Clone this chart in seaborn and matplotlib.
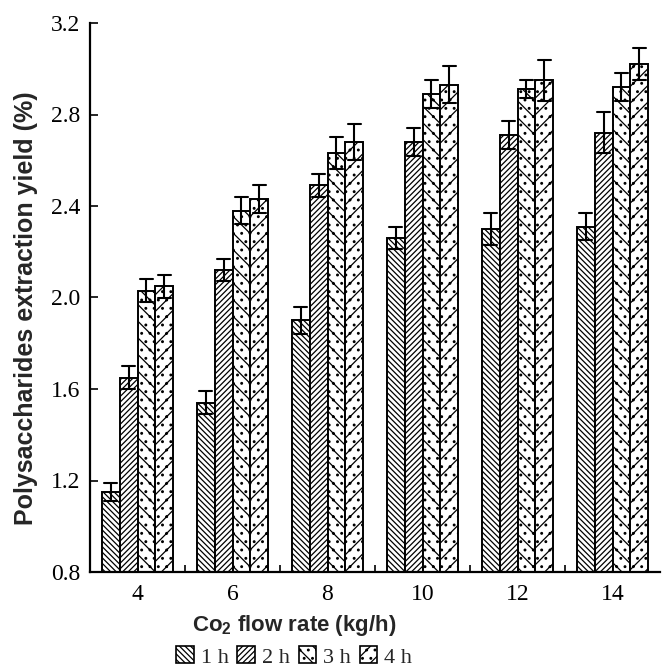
import numpy as np
import pandas as pd
import matplotlib
matplotlib.use("Agg")
import matplotlib.pyplot as plt
from matplotlib.patches import Patch
import seaborn as sns

# ---- data ----
flow_rates = ["4", "6", "8", "10", "12", "14"]
times = ["1 h", "2 h", "3 h", "4 h"]
yield_1h = [1.15, 1.54, 1.90, 2.26, 2.30, 2.31]
yield_2h = [1.65, 2.12, 2.49, 2.68, 2.71, 2.72]
yield_3h = [2.03, 2.38, 2.63, 2.89, 2.91, 2.92]
yield_4h = [2.05, 2.43, 2.68, 2.93, 2.95, 3.02]
err_1h = [0.04, 0.05, 0.06, 0.05, 0.07, 0.06]
err_2h = [0.05, 0.05, 0.05, 0.06, 0.06, 0.09]
err_3h = [0.05, 0.06, 0.07, 0.06, 0.04, 0.06]
err_4h = [0.05, 0.06, 0.08, 0.08, 0.09, 0.07]
y_ticks = [0.8, 1.2, 1.6, 2.0, 2.4, 2.8, 3.2]

means = [yield_1h, yield_2h, yield_3h, yield_4h]
errs = [err_1h, err_2h, err_3h, err_4h]
rows = []
for t, m_list, e_list in zip(times, means, errs):
    for f, m, e in zip(flow_rates, m_list, e_list):
        rows.append({"flow": f, "time": t, "yield": m - e})
        rows.append({"flow": f, "time": t, "yield": m + e})
df = pd.DataFrame(rows)

sns.set_theme(style="ticks")
plt.rcParams["hatch.linewidth"] = 0.9
plt.rcParams["mathtext.fontset"] = "custom"
plt.rcParams["mathtext.bf"] = "Liberation Sans:bold"
plt.rcParams["mathtext.rm"] = "Liberation Sans:bold"

fig = plt.figure(figsize=(6.62, 6.69), dpi=100)
ax = fig.add_axes([90 / 662, 1 - 572 / 669, 570 / 662, (572 - 23) / 669])

sns.barplot(data=df, x="flow", y="yield", hue="time",
            order=flow_rates, hue_order=times,
            palette=["white"] * 4, edgecolor="black", linewidth=1.4,
            width=0.75, estimator="mean",
            errorbar=lambda v: (v.min(), v.max()),
            capsize=0.55, err_kws={"color": "black", "linewidth": 1.5},
            legend=False, ax=ax)

hatches = ["\\\\\\\\\\\\", "//////", "\\\\..", "//.."]
for cont, h in zip(ax.containers, hatches):
    for bar in cont:
        bar.set_hatch(h)

ax.set_xlim(-0.5, 5.5)
ax.set_ylim(0.8, 3.2)
ax.set_yticks(y_ticks)
ax.set_yticklabels([f"{v:.1f}" for v in y_ticks])
ax.set_xticks(np.arange(0.5, 5.5, 1), minor=True)
ax.tick_params(axis="x", which="major", length=0, pad=9)
ax.tick_params(axis="x", which="minor", direction="in", length=5, width=1.2, color="black")
ax.tick_params(axis="y", direction="in", length=6, width=1.2, pad=7, color="black")
for lab in ax.get_xticklabels() + ax.get_yticklabels():
    lab.set_fontfamily("Liberation Serif")
    lab.set_fontsize(17)
    lab.set_color("black")
for s in ["top", "right"]:
    ax.spines[s].set_visible(False)
for s in ["left", "bottom"]:
    ax.spines[s].set_linewidth(1.6)
    ax.spines[s].set_color("black")
ax.set_xlabel("")
ax.set_ylabel("")

fig.text(26 / 662, 1 - 308 / 669, "Polysaccharides extraction yield (%)",
         rotation=90, ha="center", va="center", fontsize=18,
         fontweight="bold", family="Liberation Sans")
fig.text(294 / 662, 1 - 625 / 669, r"Co$_\mathbf{2}$ flow rate (kg/h)",
         ha="center", va="center", fontsize=16,
         fontweight="bold", family="Liberation Sans")

handles = [Patch(facecolor="white", edgecolor="black", hatch=h, linewidth=1.2)
           for h in hatches]
fig.legend(handles, times, loc="center", bbox_to_anchor=(294 / 662, 1 - 657 / 669),
           ncol=4, frameon=False, handlelength=0.8, handleheight=0.8,
           handletextpad=0.3, columnspacing=0.4,
           prop={"family": "Liberation Serif", "size": 16})

fig.savefig("out.png", dpi=100)
